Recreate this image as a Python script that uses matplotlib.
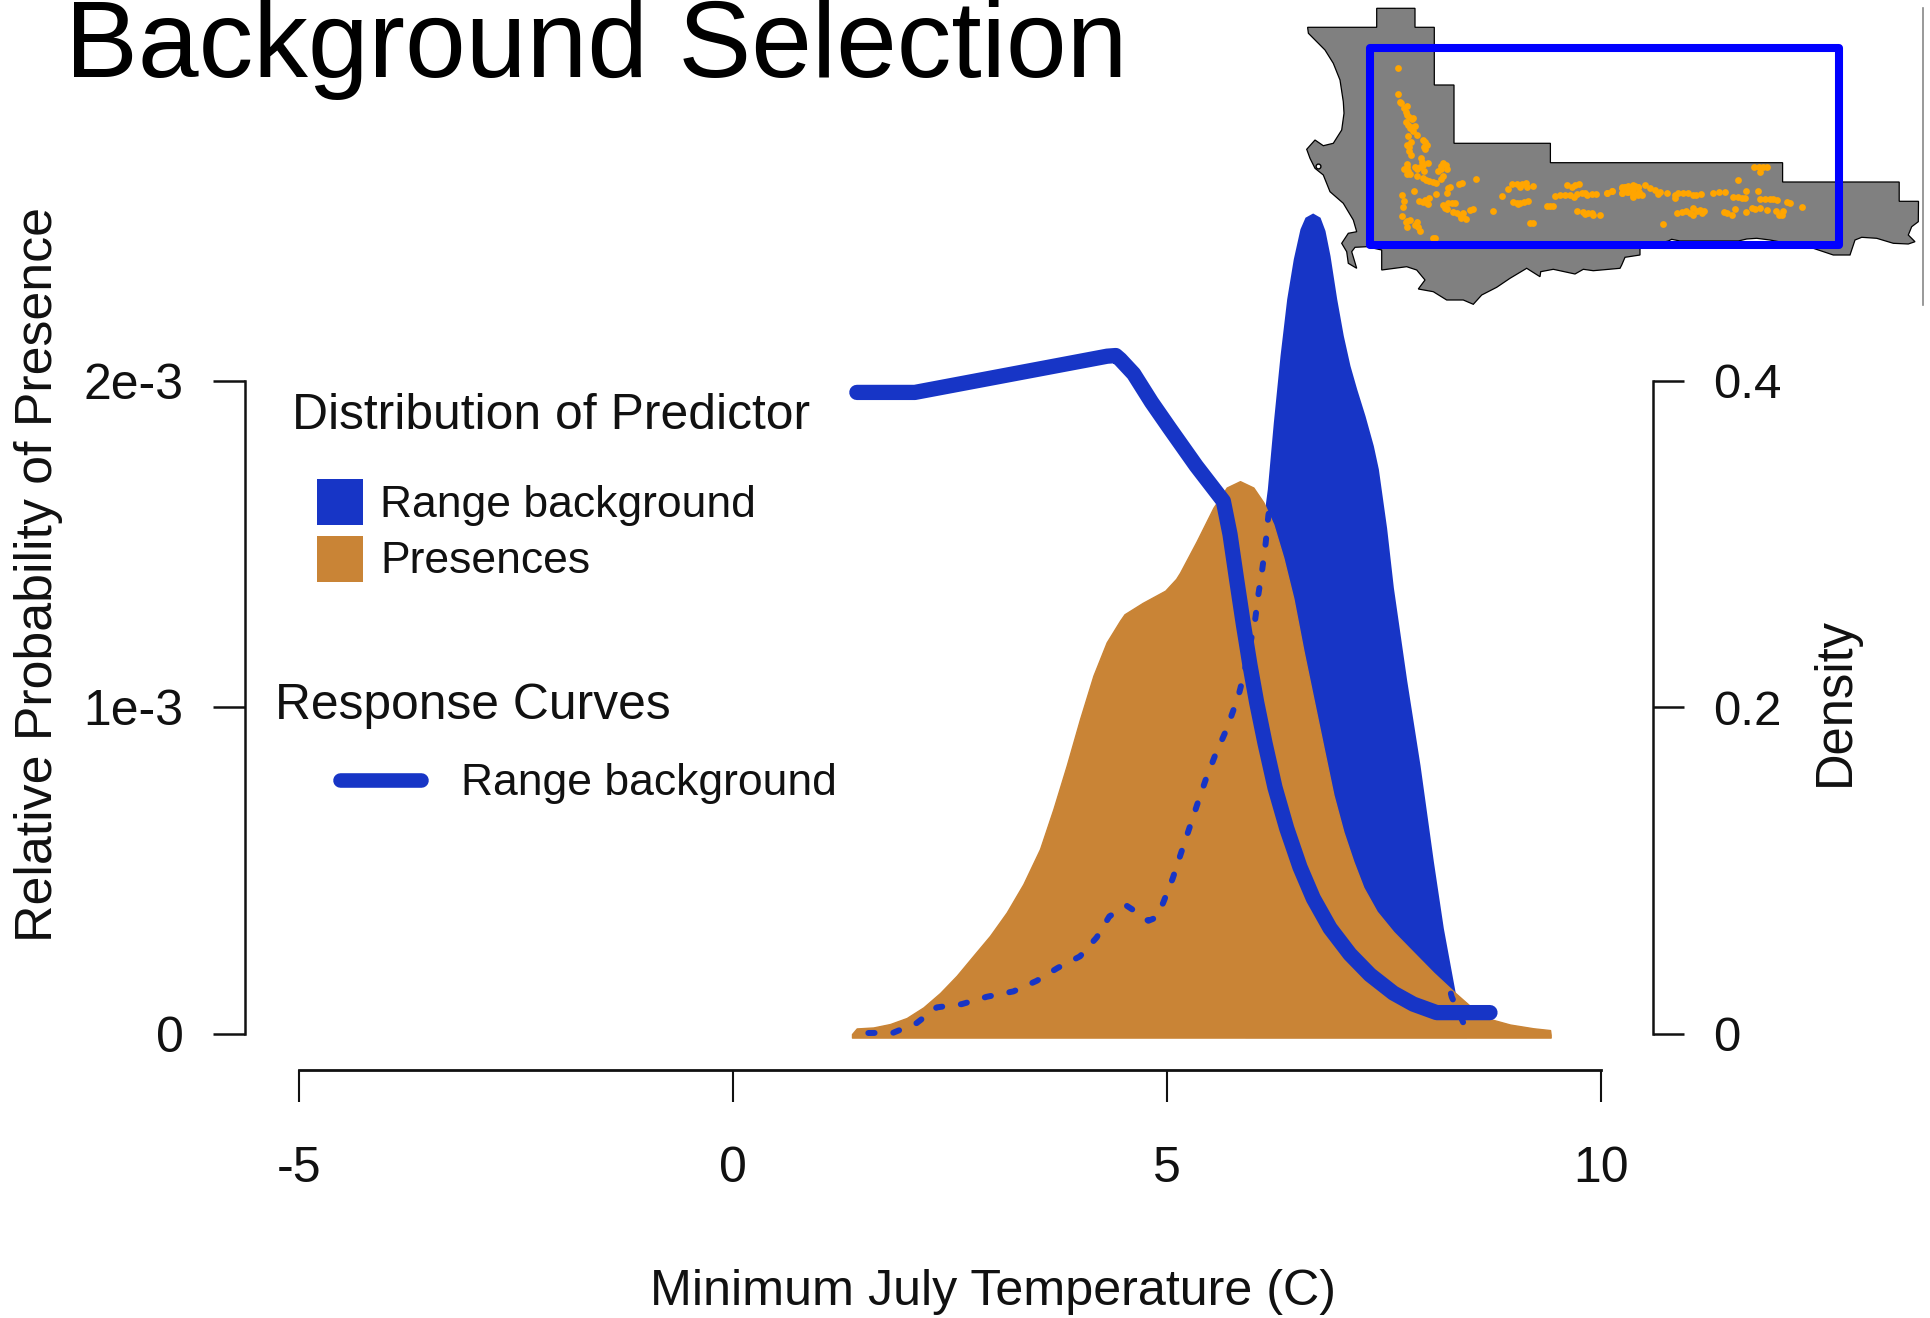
import matplotlib
matplotlib.use('Agg')
import matplotlib.pyplot as plt
from matplotlib.patches import Polygon, Rectangle

plt.rcParams['font.family'] = ['Liberation Sans', 'DejaVu Sans']
plt.rcParams['lines.scale_dashes'] = False

W, H = 1931, 1318
BLUE = '#1735C6'
ORANGE = '#C98436'
INK = '#111111'

# density curves
presence_x = [1.371, 1.425, 1.617, 1.809, 2.001, 2.193, 2.385, 2.577, 2.769, 2.961, 3.153, 3.345, 3.537, 3.691,
              3.844, 3.998, 4.152, 4.305, 4.459, 4.51, 4.72, 4.98, 5.105, 5.15, 5.342, 5.534, 5.688, 5.841, 5.995,
              6.11, 6.225, 6.34, 6.456, 6.571, 6.686, 6.801, 6.917, 7.032, 7.147, 7.262, 7.416, 7.608, 7.838,
              8.069, 8.299, 8.491, 8.721, 8.952, 9.221, 9.413, 9.42]
presence_y = [-0.0003, 0.0031, 0.0037, 0.0058, 0.0095, 0.016, 0.0248, 0.0354, 0.0477, 0.0599, 0.0742, 0.0916,
              0.1131, 0.1376, 0.1642, 0.1928, 0.2194, 0.2398, 0.2531, 0.257, 0.264, 0.2715, 0.2787, 0.2825, 0.3018,
              0.3223, 0.3347, 0.3386, 0.3347, 0.3257, 0.312, 0.2916, 0.2666, 0.2348, 0.2053, 0.1758, 0.1463,
              0.1236, 0.1054, 0.0895, 0.0748, 0.0623, 0.0498, 0.0373, 0.0259, 0.0169, 0.0089, 0.0055, 0.0032,
              0.0021, -0.0008]
range_x = [5.9, 6.13, 6.156, 6.225, 6.302, 6.379, 6.455, 6.532, 6.59, 6.678, 6.763, 6.82, 6.878, 6.955, 7.031,
           7.108, 7.185, 7.281, 7.377, 7.435, 7.53, 7.608, 7.761, 7.915, 8.069, 8.184, 8.318, 8.45]
range_y = [0.25, 0.3234, 0.3339, 0.3747, 0.4156, 0.4504, 0.4749, 0.4933, 0.5004, 0.503, 0.5004, 0.4923, 0.4769,
           0.4504, 0.4279, 0.4095, 0.3952, 0.3788, 0.3604, 0.3461, 0.31, 0.2734, 0.2167, 0.1645, 0.1054, 0.0645,
           0.0259, 0.0]

# response curves, on the left axis
resp_x = [1.427, 2.095, 4.31, 4.41, 4.462, 4.616, 4.822, 5.028, 5.336, 5.649, 5.726, 5.803, 5.88, 5.956,
          6.033, 6.129, 6.244, 6.379, 6.532, 6.686, 6.878, 7.108, 7.339, 7.608, 7.838, 8.107, 8.721]
resp_y = [1.965e-3, 1.965e-3, 2.076e-3, 2.078e-3, 2.066e-3, 2.022e-3, 1.935e-3, 1.856e-3, 1.74e-3,
          1.632e-3, 1.53e-3, 1.39e-3, 1.254e-3, 1.129e-3, 1.015e-3, 8.9e-4, 7.54e-4, 6.29e-4, 5.1e-4, 4.14e-4,
          3.23e-4, 2.43e-4, 1.8e-4, 1.24e-4, 9e-5, 6.4e-5, 6.4e-5]
resp_dash_x = [1.559, 1.847, 2.116, 2.347, 2.635, 2.923, 3.23, 3.499, 3.737, 3.998, 4.19, 4.336, 4.536, 4.651,
               4.785, 4.881, 4.958, 5.066, 5.158, 5.254, 5.35, 5.446, 5.553, 5.688, 5.822, 5.887, 6.014, 6.052,
               6.098, 6.137, 6.168, 6.4, 6.8, 7.2, 7.6, 8.0, 8.28, 8.414, 8.568]
resp_dash_y = [1.5e-6, 2.5e-6, 3.2e-5, 8e-5, 9e-5, 1.125e-4, 1.29e-4, 1.615e-4, 2.005e-4, 2.365e-4, 2.945e-4,
               3.59e-4, 3.915e-4, 3.715e-4, 3.455e-4, 3.56e-4, 4.02e-4, 4.755e-4, 5.5e-4, 6.265e-4, 7.035e-4,
               7.78e-4, 8.515e-4, 9.335e-4, 1.0335e-3, 1.102e-3, 1.265e-3, 1.3445e-3, 1.424e-3, 1.5035e-3,
               1.5885e-3, 1.9e-3, 1.85e-3, 1.5e-3, 1e-3, 4e-4, 1.125e-4, 3.3e-5, 5e-7]

# map outline, in figure pixels
map_x = [1376.7, 1415, 1415, 1434.3, 1434.3, 1454, 1454, 1550.4, 1550.4, 1782.6, 1782.6, 1899.2, 1899.2, 1918.5,
         1918.3, 1911.7, 1908.3, 1915, 1908.3, 1893.3, 1876.7, 1861.7, 1855, 1850, 1833.3, 1813.3, 1770, 1756.7,
         1746.7, 1738.3, 1680, 1671.7, 1668.3, 1640, 1640, 1625, 1621.7, 1620, 1593.3, 1583.3, 1575, 1553.3,
         1540.7, 1540, 1526.7, 1510, 1496.7, 1481.7, 1473.3, 1463.3, 1446.7, 1433.3, 1418.3, 1425, 1416.7, 1406.7,
         1381.7, 1381.7, 1366.7, 1355, 1351.7, 1356.7, 1348.3, 1346.7, 1341.7, 1348.3, 1356.7, 1353.3, 1343.3,
         1330, 1323.3, 1315, 1310, 1306.7, 1315, 1323.3, 1333.3, 1341.7, 1344, 1343.3, 1340, 1333.3, 1325, 1308.4,
         1307.6, 1376.7]
map_y = [8.3, 8.3, 27.3, 27.3, 85, 85, 143.3, 143.3, 162.7, 162.7, 182, 182, 201.3, 201.3, 221.7, 226.7, 235,
         241.7, 244, 243.3, 238.3, 237.3, 240, 255, 255, 248.3, 240, 238.3, 239, 241, 241, 239.3, 241, 248.3, 255,
         257.3, 265, 268.3, 270.7, 269.3, 274, 269.3, 271.7, 276.7, 268.3, 278.3, 287.3, 295, 304.3, 300, 300,
         291.7, 289, 280, 270, 266.7, 270, 250, 246.7, 247.3, 251.7, 268.3, 263.3, 251.7, 243.3, 233.3, 231.7,
         220, 203.3, 191.7, 175, 168.3, 158.3, 149.3, 140, 145.7, 143.3, 130, 113.3, 101.7, 80, 63.3, 50, 33.3,
         27.3, 27.3]

west_x = [293, 293, 300, 303, 320, 312, 318, 322, 328, 338, 335, 318, 325, 330, 345, 340, 352, 334, 324, 332, 320,
          326, 328, 334, 370, 375, 380, 372, 376, 363, 365, 370, 372, 360, 345, 350, 385, 320, 322, 313, 325, 322,
          330, 352, 428, 422, 438, 440, 422, 413, 370, 378, 388, 398, 408, 428, 422, 450, 445, 485, 478, 528, 305,
          312, 309, 306, 320, 330, 318, 320, 342, 358, 375, 388, 380, 385, 370, 408, 440, 430, 435, 440, 445, 455,
          465, 460, 470, 480, 490, 498, 490, 483, 510, 520, 345, 352, 355, 360, 400, 405, 580, 606, 635, 650, 665,
          678, 660, 680, 625, 700, 640, 650, 660, 672, 685, 655, 740, 750, 758, 690, 700, 800, 815, 825, 838, 765,
          780, 795, 810, 822, 830, 845, 855, 860, 875, 888, 920, 935, 830, 848, 855, 865, 875, 880, 900, 965, 975,
          985, 995, 1005, 1015, 965, 985, 1000, 1010, 1018]
west_y = [54, 131, 155, 158, 167, 173, 185, 195, 202, 204, 207, 215, 225, 235, 228, 243, 254, 232, 257, 275, 285,
          292, 303, 316, 270, 275, 285, 292, 298, 325, 335, 345, 362, 350, 350, 357, 340, 342, 352, 356, 362, 372,
          373, 378, 340, 348, 345, 358, 357, 362, 385, 390, 392, 396, 398, 378, 388, 412, 415, 400, 402, 387, 435,
          454, 472, 498, 512, 510, 515, 532, 423, 452, 450, 445, 458, 463, 455, 433, 428, 464, 475, 477, 458, 460,
          460, 487, 490, 495, 500, 507, 490, 505, 480, 477, 525, 515, 530, 542, 563, 563, 483, 437, 403, 402, 402,
          398, 412, 412, 418, 407, 457, 460, 458, 455, 452, 462, 467, 467, 467, 518, 520, 406, 410, 405, 402, 437,
          435, 435, 435, 440, 432, 428, 428, 435, 432, 432, 430, 423, 483, 485, 492, 490, 490, 495, 495, 412, 410,
          412, 410, 408, 410, 428, 425, 435, 432, 425]
# and from the east half (3x crop from 1600,140)
east_x = [20, 35, 65, 75, 85, 100, 115, 135, 150, 165, 180, 175, 65, 80, 100, 100, 115, 125, 200, 225, 235, 250,
          265, 280, 288, 225, 303, 338, 357, 375, 413, 438, 473, 400, 415, 425, 435, 463, 478, 490, 500, 480, 480,
          495, 510, 520, 530, 560, 570, 606, 230, 245, 258, 270, 280, 278, 290, 300, 312, 305, 190, 372, 382, 396,
          405, 438, 455, 465, 480, 500, 528, 550, 545, 538]
east_y = [158, 152, 145, 140, 137, 135, 140, 135, 145, 150, 155, 162, 158, 155, 150, 170, 165, 165, 158, 165, 160,
          160, 160, 165, 165, 175, 163, 158, 155, 155, 120, 152, 152, 170, 170, 175, 173, 82, 80, 82, 82, 95, 177,
          177, 177, 178, 180, 187, 188, 200, 220, 217, 213, 220, 205, 225, 212, 210, 213, 220, 252, 217, 220, 225,
          208, 217, 205, 208, 205, 210, 212, 212, 225, 225]

x_ticks = [-5, 0, 5, 10]
x_labels = ['-5', '0', '5', '10']
left_ticks = [0, 1e-3, 2e-3]
left_labels = ['0', '1e-3', '2e-3']
right_ticks = [0, 0.2, 0.4]
right_labels = ['0', '0.2', '0.4']

fig = plt.figure(figsize=(W / 100, H / 100), dpi=100)

# main axes span x -5..10 and density 0..0.4
left, right, top, bottom = 299, 1601, 381, 1033.5
ax = fig.add_axes([left / W, 1 - bottom / H, (right - left) / W, (bottom - top) / H])
ax.set_xlim(-5, 10)
ax.set_ylim(0, 0.4)
ax.patch.set_alpha(0)
ax.fill_between(range_x, range_y, -0.0025, color=BLUE, lw=0, clip_on=False)
ax.fill_between(presence_x, presence_y, -0.0025, color=ORANGE, lw=1, clip_on=False)

ax2 = ax.twinx()
ax2.set_ylim(0, 2e-3)
ax2.plot(resp_x, resp_y, color=BLUE, lw=11, solid_capstyle='round', solid_joinstyle='round', clip_on=False)
ax2.plot(resp_dash_x, resp_dash_y, color=BLUE, lw=4.3, dashes=(4.5, 13.5), dash_capstyle='round', clip_on=False)

for a in (ax, ax2):
    for s in a.spines.values():
        s.set_visible(False)
ax.spines['bottom'].set_visible(True)
ax.spines['bottom'].set_position(('outward', 26.2))
ax.spines['bottom'].set_linewidth(2)
ax.spines['bottom'].set_color(INK)
ax.spines['bottom'].set_bounds(-5, 10)
ax.set_xticks(x_ticks)
ax.set_xticklabels(x_labels)
ax.tick_params(axis='x', direction='out', length=23, width=1.5, pad=32, labelsize=36, colors=INK)

# density axis on the right, probability axis on the left
ax.yaxis.tick_right()
ax.spines['right'].set_visible(True)
ax.spines['right'].set_position(('outward', 37.4))
ax.spines['right'].set_linewidth(1.8)
ax.spines['right'].set_color(INK)
ax.spines['right'].set_bounds(0, 0.4)
ax.set_yticks(right_ticks)
ax.set_yticklabels(right_labels)
ax.tick_params(axis='y', direction='out', length=22.3, width=1.8, pad=20.7, labelsize=35.5, colors=INK)

ax2.yaxis.tick_left()
ax2.spines['left'].set_visible(True)
ax2.spines['left'].set_position(('outward', 39))
ax2.spines['left'].set_linewidth(1.8)
ax2.spines['left'].set_color(INK)
ax2.spines['left'].set_bounds(0, 2e-3)
ax2.set_yticks(left_ticks)
ax2.set_yticklabels(left_labels)
ax2.tick_params(axis='y', direction='out', length=23, width=1.8, pad=21, labelsize=36, colors=INK)


def ftext(px, py, s, **kw):
    # place text by figure pixel
    fig.text(px / W, 1 - py / H, s, color=INK, **kw)


ftext(39, 574, 'Relative Probability of Presence', fontsize=37.4, rotation=90, ha='center', va='center')
ftext(1835, 702, 'Density', fontsize=36.5, rotation=90, ha='center', va='center')
ftext(993, 1292, 'Minimum July Temperature (C)', fontsize=36.2, ha='center', va='center')
ftext(292, 416, 'Distribution of Predictor', fontsize=35.8, va='center')
ftext(380, 505, 'Range background', fontsize=32, va='center')
ftext(380, 561, 'Presences', fontsize=32, va='center')
ftext(275, 706, 'Response Curves', fontsize=35.8, va='center')
ftext(461, 784, 'Range background', fontsize=32, va='center')
fig.text(65 / W, 1 - 77 / H, 'Background Selection', fontsize=78.6, color='black', va='baseline')

fig.patches.append(Rectangle((317 / W, 1 - 525 / H), 46 / W, 46 / H, transform=fig.transFigure, color=BLUE, lw=0))
fig.patches.append(Rectangle((317 / W, 1 - 582 / H), 46 / W, 46 / H, transform=fig.transFigure, color=ORANGE, lw=0))
fig.add_artist(plt.Line2D([340 / W, 421 / W], [1 - 780 / H, 1 - 780 / H], color=BLUE, lw=10.5, solid_capstyle='round'))

# map inset, its data coordinates are figure pixels
mp = fig.add_axes([1290 / W, 1 - 320 / H, 641 / W, 320 / H])
mp.set_xlim(1290, 1931)
mp.set_ylim(320, 0)
mp.axis('off')
mp.add_patch(Polygon(list(zip(map_x, map_y)), closed=True, facecolor='#808080', edgecolor='black', lw=0.9))
mp.scatter([1318], [166], s=12, color='white', edgecolor='black', lw=1, zorder=2)
mp.scatter([1300 + v / 3 for v in west_x], [50 + v / 3 for v in west_y], s=24, color='#FFA500', lw=0, zorder=3)
mp.scatter([1600 + v / 3 for v in east_x], [140 + v / 3 for v in east_y], s=24, color='#FFA500', lw=0, zorder=3)
mp.add_patch(Rectangle((1369.7, 47.5), 469.3, 197.5, fill=False, edgecolor='#0000FF', lw=5.8, joinstyle='round',
                       zorder=4))
mp.plot([1923.3, 1923.3], [8, 305], color='#888888', lw=1.2)

fig.savefig('out.png', dpi=100)
